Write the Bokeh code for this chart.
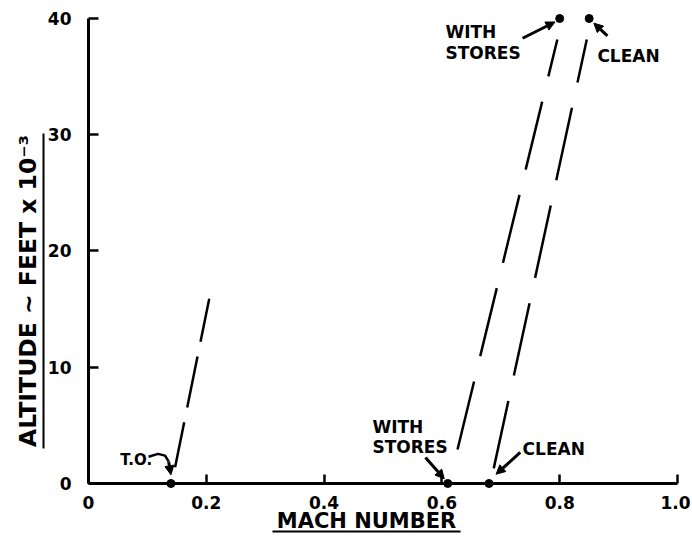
from bokeh.plotting import figure
from bokeh.models import FixedTicker, LinearAxis, Range1d, Arrow, NormalHead, BoxAnnotation
from bokeh.core.properties import value
from bokeh.embed import file_html
from bokeh.resources import INLINE

# ---- data ----
x_ticks = [0, 0.2, 0.4, 0.6, 0.8, 1.0]
x_tick_labels = ["0", "0.2", "0.4", "0.6", "0.8", "1.0"]
y_ticks = [0, 10, 20, 30, 40]
y_tick_labels = ["0", "10", "20", "30", "40"]

point_mach = [0.14, 0.61, 0.68, 0.80, 0.85]
point_alt = [0, 0, 0, 40, 40]

to_mach = [0.205, 0.147]
to_alt = [15.9, 1.4]
stores_mach = [0.796, 0.623]
stores_alt = [38.2, 2.2]
clean_mach = [0.846, 0.688]
clean_alt = [38.2, 1.3]

note_text = ["WITH", "STORES", "CLEAN", "WITH", "STORES", "CLEAN"]
note_mach = [0.606, 0.606, 0.864, 0.482, 0.482, 0.737]
note_alt = [38.8, 37.0, 36.8, 4.82, 3.10, 3.01]
to_text = ["T.O."]
to_text_mach = [0.054]
to_text_alt = [1.98]

FONT = "DejaVu Sans"

# frame covers the whole canvas; axes are drawn at x=0 / y=0 inside it
p = figure(width=690, height=536,
           x_range=Range1d(-0.14941, 1.02207), y_range=Range1d(-4.559, 41.548),
           output_backend="svg", toolbar_location=None, title=None,
           min_border=0, min_border_left=0, min_border_right=0,
           min_border_top=0, min_border_bottom=0)
p.grid.visible = False
p.outline_line_color = None
p.background_fill_color = "white"
p.border_fill_color = "white"

xa = p.xaxis[0]
xa.fixed_location = 0
xa.bounds = (0, 1.0)
xa.ticker = FixedTicker(ticks=x_ticks)
xa.major_label_overrides = dict(zip(x_ticks, x_tick_labels))
ya = p.yaxis[0]
ya.fixed_location = 0
ya.bounds = (0, 40)
ya.ticker = FixedTicker(ticks=y_ticks)
ya.major_label_overrides = dict(zip(y_ticks, y_tick_labels))
for ax, tin in ((xa, 9), (ya, 10)):
    ax.major_tick_in = tin
    ax.major_tick_out = 0
    ax.minor_tick_line_color = None
    ax.minor_tick_out = 0
    ax.axis_line_width = 3
    ax.axis_line_color = "black"
    ax.major_tick_line_width = 2.5
    ax.major_tick_line_color = "black"
    ax.major_label_text_font = FONT
    ax.major_label_text_font_style = "bold"
    ax.major_label_text_font_size = "17px"
    ax.major_label_text_color = "black"
xa.major_label_standoff = 12
ya.major_label_standoff = 17

# axes carrying the (underlined) axis titles
ylab = LinearAxis(fixed_location=0, bounds=(0, 33.1), ticker=FixedTicker(ticks=[]),
                  axis_line_color=None, major_tick_line_color=None, minor_tick_line_color=None,
                  major_tick_out=0, minor_tick_out=0, major_tick_in=0, minor_tick_in=0,
                  axis_label="ALTITUDE ~ FEET x 10\u207b\u00b3", axis_label_standoff=47,
                  axis_label_text_font=FONT, axis_label_text_font_style="bold",
                  axis_label_text_font_size="23.5px", axis_label_text_color="black")
p.add_layout(ylab, "left")
xlab = LinearAxis(fixed_location=0, bounds=(0, 0.944), ticker=FixedTicker(ticks=[]),
                  axis_line_color=None, major_tick_line_color=None, minor_tick_line_color=None,
                  major_tick_out=0, minor_tick_out=0, major_tick_in=0, minor_tick_in=0,
                  axis_label="MACH NUMBER", axis_label_standoff=25,
                  axis_label_text_font=FONT, axis_label_text_font_style="bold",
                  axis_label_text_font_size="21px", axis_label_text_color="black")
p.add_layout(xlab, "below")

# underlines
p.add_layout(BoxAnnotation(left=272, right=460, top=530, bottom=532,
                           left_units="canvas", right_units="canvas",
                           top_units="canvas", bottom_units="canvas",
                           fill_color="black", fill_alpha=1, line_color=None))
p.add_layout(BoxAnnotation(left=42, right=44, top=133, bottom=448,
                           left_units="canvas", right_units="canvas",
                           top_units="canvas", bottom_units="canvas",
                           fill_color="black", fill_alpha=1, line_color=None))

# dashed curves
p.line(to_mach, to_alt, line_color="black", line_width=2.5, line_dash="52 15", line_dash_offset=8)
p.line(stores_mach, stores_alt, line_color="black", line_width=2.5, line_dash="70 26", line_dash_offset=32)
p.line(clean_mach, clean_alt, line_color="black", line_width=2.5, line_dash="74 26", line_dash_offset=30)

# points
p.scatter(point_mach, point_alt, size=8, color="black")

# annotations
p.text(note_mach, note_alt, text=note_text, text_font=value(FONT), text_font_style="bold",
       text_font_size="17px", text_baseline="alphabetic", text_align="left", text_color="black")
p.text(to_text_mach, to_text_alt, text=to_text, text_font=value(FONT), text_font_style="bold",
       text_font_size="15px", text_baseline="alphabetic", text_align="left", text_color="black")

def arrow(x0, y0, x1, y1):
    p.add_layout(Arrow(end=NormalHead(size=9, fill_color="black", line_color="black", line_width=1),
                       x_start=x0, y_start=y0, x_end=x1, y_end=y1,
                       line_color="black", line_width=3))

arrow(0.737, 38.3, 0.792, 39.7)   # top with stores
arrow(0.881, 38.5, 0.858, 39.6)   # top clean
arrow(0.572, 2.24, 0.604, 0.40)   # bottom with stores
arrow(0.733, 2.67, 0.692, 0.80)   # bottom clean
p.line([0.102, 0.118, 0.130, 0.136], [2.3, 2.55, 2.4, 1.9], line_color="black", line_width=2.5)
arrow(0.136, 1.9, 0.140, 0.75)    # T.O.

open("out.html", "w").write(file_html(p, INLINE))
